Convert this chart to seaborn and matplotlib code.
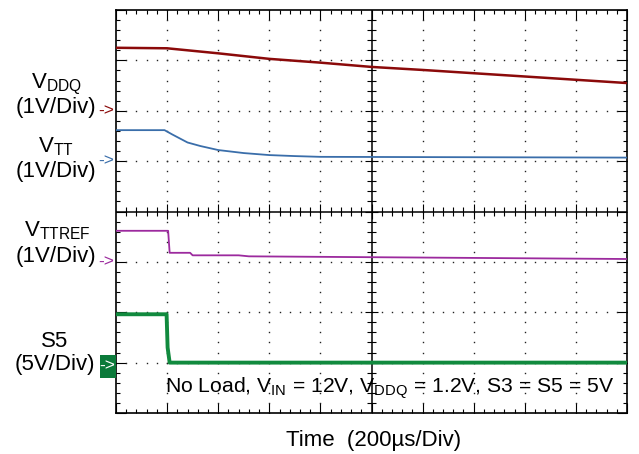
import numpy as np
import pandas as pd
import matplotlib
matplotlib.use("Agg")
import matplotlib.pyplot as plt
from matplotlib.ticker import MultipleLocator
from matplotlib.patches import Rectangle
import seaborn as sns

# 波形数据（横轴：格，纵轴：格，从下往上 0..8）
t_vddq = [0.0, 1.0, 2.0, 3.0, 4.0, 5.0, 6.0, 7.0, 8.0, 9.0, 10.0]
v_vddq = [7.25, 7.24, 7.14, 7.03, 6.955, 6.87, 6.81, 6.745, 6.68, 6.615, 6.55]

t_vtt = [0.0, 0.95, 1.1, 1.4, 1.65, 2.0, 2.5, 3.0, 3.5, 4.0, 10.0]
v_vtt = [5.615, 5.615, 5.53, 5.37, 5.30, 5.22, 5.16, 5.12, 5.10, 5.085, 5.07]

t_vttref = [0.0, 1.02, 1.05, 1.45, 1.5, 2.4, 2.6, 10.0]
v_vttref = [3.617, 3.617, 3.18, 3.18, 3.13, 3.13, 3.11, 3.057]

t_s5 = [0.0, 0.99, 1.01, 1.05, 10.0]
v_s5 = [1.96, 1.96, 1.30, 1.0, 1.0]

c_vddq = "#8b0a0a"
c_vtt = "#3a6eaa"
c_vttref = "#9c2a9e"
c_s5 = "#118a3e"

W, H = 639, 454

sns.set_theme(style="white")
plt.rcParams["font.family"] = ["Liberation Sans", "DejaVu Sans"]
plt.rcParams["mathtext.default"] = "regular"

fig = plt.figure(figsize=(W / 100, H / 100), dpi=100)
ax = fig.add_axes([116 / W, 41 / H, 511 / W, 403 / H])
ax.set_xlim(0, 10)
ax.set_ylim(0, 8)

# 点状网格
dot_pos = np.round(np.arange(0, 10.01, 0.2), 2)
dot_pos_y = np.round(np.arange(0, 8.01, 0.2), 2)
for gx in [1, 2, 3, 4, 6, 7, 8, 9]:
    ax.plot(np.full(len(dot_pos_y), gx), dot_pos_y, ls="none", marker="s",
            ms=1.0, mew=0, color="#222222", zorder=1)
for gy in [1, 2, 3, 5, 6, 7]:
    ax.plot(dot_pos, np.full(len(dot_pos), gy), ls="none", marker="s",
            ms=1.0, mew=0, color="#222222", zorder=1)

# 中心十字线及刻度
ax.axhline(4, color="black", lw=1.1, zorder=2)
ax.axvline(5, color="black", lw=1.1, zorder=2)
minor_x = [v for v in dot_pos if abs(v - round(v)) > 1e-6]
major_x = list(range(1, 10))
minor_y = [v for v in dot_pos_y if abs(v - round(v)) > 1e-6]
major_y = list(range(1, 8))
ax.vlines(minor_x, 4 - 0.085, 4 + 0.085, color="black", lw=0.8, zorder=2)
ax.vlines(major_x, 4 - 0.14, 4 + 0.14, color="black", lw=0.8, zorder=2)
ax.hlines(minor_y, 5 - 0.08, 5 + 0.08, color="black", lw=0.8, zorder=2)
ax.hlines(major_y, 5 - 0.13, 5 + 0.13, color="black", lw=0.8, zorder=2)

# 波形
traces = [
    (t_vddq, v_vddq, c_vddq, 1.8),
    (t_vtt, v_vtt, c_vtt, 1.3),
    (t_vttref, v_vttref, c_vttref, 1.3),
    (t_s5, v_s5, c_s5, 2.8),
]
for tx, vy, col, lw in traces:
    df = pd.DataFrame({"t": tx, "v": vy})
    sns.lineplot(data=df, x="t", y="v", ax=ax, color=col, lw=lw,
                 estimator=None, sort=False, zorder=3)

ax.set_xlabel("")
ax.set_ylabel("")
ax.xaxis.set_major_locator(MultipleLocator(1))
ax.xaxis.set_minor_locator(MultipleLocator(0.2))
ax.yaxis.set_major_locator(MultipleLocator(1))
ax.yaxis.set_minor_locator(MultipleLocator(0.2))
ax.tick_params(which="both", direction="in", top=True, right=True,
               bottom=True, left=True, labelbottom=False, labelleft=False,
               color="black", width=0.8)
ax.tick_params(which="major", length=7)
ax.tick_params(which="minor", length=3)
for sp in ax.spines.values():
    sp.set_color("black")
    sp.set_linewidth(1.2)


def px(x, y):
    return x / W, 1 - y / H


fs = 16
labels = [
    ("V$_{DDQ}$", 56, 88), ("(1V/Div)", 56, 113),
    ("V$_{TT}$", 56, 152), ("(1V/Div)", 56, 177),
    ("V$_{TTREF}$", 57, 236), ("(1V/Div)", 56, 262),
    ("S5", 55, 347), ("(5V/Div)", 55, 370),
]
for s, x, y in labels:
    fig.text(*px(x, y), s, fontsize=fs, ha="center", va="baseline", color="black")

# 通道标记箭头
for col, y in [(c_vddq, 111), (c_vtt, 161), (c_vttref, 262)]:
    fig.text(*px(114, y), "->", fontsize=12.5, ha="right", va="center",
             color=col)
fig.patches.append(Rectangle(px(100, 378), 16 / W, 23 / H, transform=fig.transFigure,
                             facecolor="#0b7a3a", edgecolor="none"))
fig.text(*px(115, 366), "->", fontsize=12.5, ha="right", va="center",
         color="white")

fig.text(*px(614, 393), "No Load, V$_{IN}$ = 12V, V$_{DDQ}$ = 1.2V, S3 = S5 = 5V",
         fontsize=15.2, ha="right", va="baseline", color="black")
fig.text(*px(374, 446), "Time  (200\u00b5s/Div)", fontsize=16, ha="center",
         va="baseline", color="black")

fig.savefig("out.png", dpi=100, facecolor="white")
